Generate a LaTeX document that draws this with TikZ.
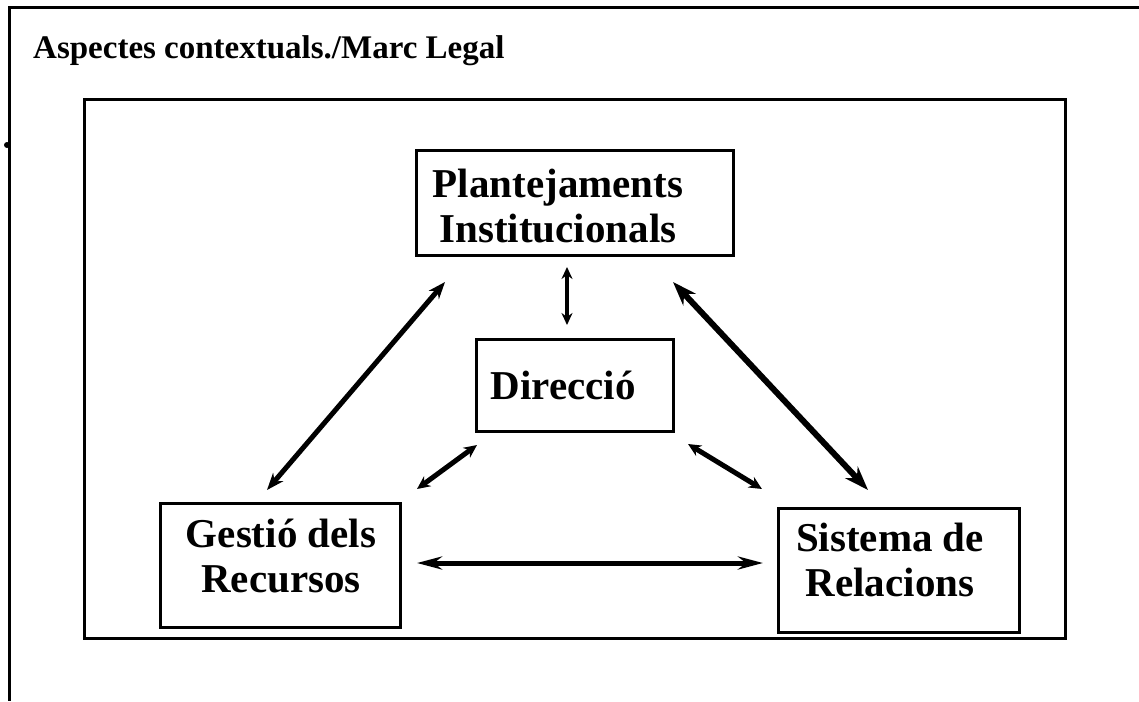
\documentclass[tikz,border=0pt]{standalone}
\usepackage{fontspec}
\setmainfont{Liberation Serif}
\usetikzlibrary{arrows.meta}
\begin{document}
\begin{tikzpicture}[x=1pt,y=-1pt,
  frame/.style={line width=3pt},
  box/.style={draw, line width=3pt, rectangle, inner sep=0pt},
  lbl/.style={font=\fontsize{41}{45}\selectfont\bfseries, align=center, inner sep=0pt, anchor=base},
  arrA/.style={line width=5pt, {Stealth[length=17pt,width=13pt]}-{Stealth[length=17pt,width=13pt]}},
  arrB/.style={line width=6pt, {Stealth[length=24pt,width=17pt]}-{Stealth[length=24pt,width=17pt]}},
  arrS/.style={line width=5pt, {Stealth[length=13pt,width=12pt]}-{Stealth[length=13pt,width=12pt]}},
  arrV/.style={line width=4pt, {Stealth[length=12pt,width=11pt]}-{Stealth[length=12pt,width=11pt]}},
  arrH/.style={line width=5pt, {Stealth[length=25pt,width=13pt]}-{Stealth[length=25pt,width=13pt]}}
]
\useasboundingbox (0,0) rectangle (1139,701);
% outer frame (partial)
\draw[frame] (1139,8) -- (9,8) -- (9,701);
\fill (7,145) circle (3pt);
% title
\node[font=\fontsize{33}{38}\selectfont\bfseries, anchor=base west, inner sep=0pt] (title) at (33,59) {Aspectes contextuals./Marc Legal};
% inner frame
\draw[frame] (84,99) rectangle (1065,638);
% boxes
\node[box, minimum width=317pt, minimum height=105pt] (P) at (574.5,202.5) {};
\node[box, minimum width=197pt, minimum height=92pt] (D) at (574.5,385) {};
\node[box, minimum width=240pt, minimum height=124pt] (G) at (280,565) {};
\node[box, minimum width=241pt, minimum height=124pt] (S) at (898.5,570) {};
% labels (base = last line)
\node[lbl] (Pt) at (558,242) {Plantejaments\\Institucionals};
\node[lbl] (Dt) at (563,399) {Direcció};
\node[lbl] (Gt) at (281,592) {Gestió dels\\Recursos};
\node[lbl] (St) at (890,596) {Sistema de\\Relacions};
% arrow end points
\coordinate (v1) at (567,267); \coordinate (v2) at (567,325);
\coordinate (l1) at (445,282); \coordinate (l2) at (267,490);
\coordinate (r1) at (673,282); \coordinate (r2) at (868,490);
\coordinate (sl1) at (477,445); \coordinate (sl2) at (417,489);
\coordinate (sr1) at (688,444); \coordinate (sr2) at (762,489);
\coordinate (h1) at (417,563); \coordinate (h2) at (763,563);
% arrows
\draw[arrV] (v1) -- (v2);
\draw[arrA] (l1) -- (l2);
\draw[arrB] (r1) -- (r2);
\draw[arrS] (sl1) -- (sl2);
\draw[arrS] (sr1) -- (sr2);
\draw[arrH] (h1) -- (h2);
\end{tikzpicture}
\end{document}
